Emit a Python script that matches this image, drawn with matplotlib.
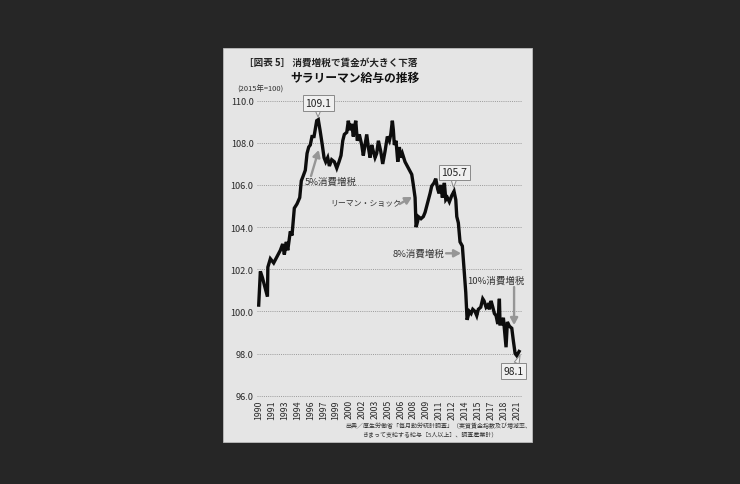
import matplotlib
matplotlib.use("Agg")
import matplotlib.pyplot as plt
from matplotlib.patches import Rectangle
import numpy as np

plt.rcParams['font.family'] = ['Noto Sans CJK JP', 'DejaVu Sans']

# ---- data ----
years = [1990.00, 1990.20, 1990.45, 1991.05, 1991.10, 1991.40, 1991.80, 1992.20, 1992.60, 1992.88,
         1993.08, 1993.32, 1993.49, 1993.80, 1994.00, 1994.28, 1994.60, 1994.93, 1995.12, 1995.32,
         1995.60, 1995.81, 1996.01, 1996.20, 1996.40, 1996.65, 1996.97, 1997.16, 1997.37, 1997.64,
         1997.85, 1998.05, 1998.29, 1998.49, 1998.77, 1999.09, 1999.38, 1999.65, 1999.89, 2000.10,
         2000.29, 2000.58, 2000.77, 2000.97, 2001.18, 2001.37, 2001.49, 2001.66, 2001.85, 2002.09,
         2002.38, 2002.57, 2002.78, 2002.98, 2003.17, 2003.38, 2003.58, 2003.77, 2003.98, 2004.18,
         2004.38, 2004.66, 2004.90, 2005.18, 2005.46, 2005.70, 2005.87, 2006.06, 2006.18, 2006.30,
         2006.50, 2006.71, 2006.90, 2007.07, 2007.26, 2007.58, 2007.98, 2008.39, 2008.58, 2008.79,
         2008.91, 2009.11, 2009.18, 2009.50, 2009.78, 2009.99, 2010.19, 2010.38, 2010.59, 2010.79,
         2011.07, 2011.27, 2011.51, 2011.67, 2011.88, 2012.07, 2012.31, 2012.48, 2012.67, 2012.91,
         2013.20, 2013.47, 2013.68, 2013.80, 2013.99, 2014.19, 2014.47, 2014.71, 2014.88, 2015.04,
         2015.31, 2015.52, 2015.72, 2015.99, 2016.20, 2016.39, 2016.68, 2016.92, 2017.08, 2017.32,
         2017.52, 2017.72, 2017.92, 2018.13, 2018.32, 2018.52, 2018.73, 2018.92, 2019.00, 2019.21,
         2019.40, 2019.72, 2019.88, 2020.12, 2020.41, 2020.60, 2020.81, 2021.01, 2021.29]
wage_index = [100.3, 101.9, 101.6, 100.7, 102.1, 102.5, 102.3, 102.6, 102.9, 103.2,
              102.7, 103.3, 102.9, 103.8, 103.6, 104.9, 105.1, 105.4, 106.2, 106.4,
              106.7, 107.5, 107.8, 107.9, 108.3, 108.3, 109.05, 109.1, 108.6, 107.9,
              107.3, 107.1, 107.3, 106.9, 107.2, 107.1, 106.8, 107.1, 107.4, 108.1,
              108.4, 108.5, 109.05, 108.6, 108.9, 108.3, 108.7, 109.05, 108.1, 108.4,
              107.9, 107.4, 107.9, 108.4, 107.8, 107.3, 107.9, 107.6, 107.3, 107.5,
              108.1, 107.6, 107.0, 107.6, 108.3, 108.1, 108.4, 109.05, 108.6, 107.9,
              108.1, 107.1, 107.8, 107.3, 107.5, 107.1, 106.8, 106.5, 106.0, 105.4,
              104.0, 104.3, 104.5, 104.4, 104.5, 104.7, 105.0, 105.3, 105.6, 105.95,
              106.1, 106.3, 105.8, 105.6, 106.0, 105.4, 106.1, 105.3, 105.4, 105.2,
              105.5, 105.7, 105.3, 104.5, 104.2, 103.3, 103.1, 101.8, 100.9, 99.6,
              100.0, 99.9, 100.1, 100.0, 99.8, 100.1, 100.2, 100.6, 100.5, 100.2,
              100.3, 100.1, 100.5, 100.2, 99.9, 99.8, 99.4, 100.6, 99.4, 99.4,
              99.7, 98.3, 99.5, 99.3, 99.2, 98.6, 98.0, 97.9, 98.1]

tick_labels = ['1990', '1991', '1993', '1994', '1996', '1997', '1999', '2000', '2002', '2003',
               '2005', '2006', '2008', '2009', '2011', '2012', '2014', '2015', '2017', '2018', '2021']
y_ticks = [96.0, 98.0, 100.0, 102.0, 104.0, 106.0, 108.0, 110.0]

W, H = 740, 485
fig = plt.figure(figsize=(W / 100, H / 100), dpi=100)
fig.patch.set_facecolor('#262626')

def fx(x):
    return x / W

def fy(y):
    return 1 - y / H

# light panel
fig.patches.append(Rectangle((fx(223), fy(443)), (532 - 223) / W, (443 - 49) / H,
                             transform=fig.transFigure, facecolor='#e5e5e5',
                             edgecolor='#bdbdbd', linewidth=0.6, zorder=-5))

ax = fig.add_axes([fx(257), fy(396.7), (522 - 257) / W, 295 / H])
ax.set_zorder(2)
ax.set_facecolor('none')
for s in ax.spines.values():
    s.set_visible(False)

ax.set_xlim(1990 - 1.7 / 8.32, 2021 + 5.3 / 8.32)
ax.set_ylim(96, 110)

ax.set_yticks(y_ticks)
ax.set_yticklabels([f'{v:.1f}' for v in y_ticks], fontsize=6.6, color='#2a2a2a')
ax.tick_params(axis='y', length=0, pad=2.5)
for v in y_ticks:
    ax.axhline(v, color='#9a9a9a', linewidth=0.7, linestyle=(0, (1, 1.2)), zorder=1, clip_on=False)

xt = np.linspace(1990, 2021, len(tick_labels))
ax.set_xticks(xt)
ax.set_xticklabels(tick_labels, rotation=90, fontsize=6.3, color='#2a2a2a', va='top')
ax.tick_params(axis='x', length=0, pad=2.5)

ax.plot(years, wage_index, color='#0d0d0d', linewidth=2.4, solid_joinstyle='miter', zorder=3)

def px2data(x, y):
    return 1990 + (x - 258.7) / 8.32, 110 - (y - 101.7) / (295 / 14)

# callout boxes
box = dict(boxstyle='square,pad=0.25', facecolor='#f0f0f0', edgecolor='#8a8a8a', linewidth=0.7)
wedge = dict(arrowstyle='wedge,tail_width=0.5', facecolor='#f0f0f0', edgecolor='#8a8a8a', linewidth=0.7,
             shrinkA=0, shrinkB=0)
for label, tip, center in [('109.1', (318, 118), (318, 104)),
                           ('105.7', (453.5, 188.5), (454, 173.3)),
                           ('98.1', (520, 356), (513.3, 372))]:
    ax.annotate(label, xy=px2data(*tip), xytext=px2data(*center), ha='center', va='center',
                fontsize=7.4, color='#222222', bbox=box, arrowprops=wedge, zorder=5)

# event annotations with gray arrows
arrow = dict(arrowstyle='-|>,head_length=0.4,head_width=0.22', color='#969696', linewidth=1.7,
             shrinkA=0, shrinkB=0)
ax.annotate('', xy=px2data(318.7, 151), xytext=px2data(311, 177), arrowprops=arrow, zorder=4)
ax.text(*px2data(305, 182.5), '5%消費増税', fontsize=6.8, color='#333333', va='center', ha='left', zorder=4)

ax.text(*px2data(330, 203.5), 'リーマン・ショック', fontsize=5.7, color='#333333', va='center', ha='left', zorder=4)
ax.annotate('', xy=px2data(412, 198), xytext=px2data(399.5, 205), arrowprops=arrow, zorder=4)

ax.text(*px2data(392.7, 254.5), '8%消費増税', fontsize=6.8, color='#333333', va='center', ha='left', zorder=4)
ax.annotate('', xy=px2data(461, 254.3), xytext=px2data(446, 254.3), arrowprops=arrow, zorder=4)

ax.text(*px2data(466.7, 281.5), '10%消費増税', fontsize=6.8, color='#333333', va='center', ha='left', zorder=4)
ax.annotate('', xy=px2data(514, 326), xytext=px2data(514, 288), arrowprops=arrow, zorder=4)

# titles
fig.text(fx(243.5), fy(63), '［図表 5］ 消費増税で賃金が大きく下落', fontsize=6.9, fontweight='bold',
         color='#222222', va='center', ha='left')
fig.text(fx(290), fy(78.5), 'サラリーマン給与の推移', fontsize=8.5, fontweight='bold',
         color='#111111', va='center', ha='left')
fig.text(fx(237), fy(89.5), '(2015年=100)', fontsize=5.4, color='#333333', va='center', ha='left')

# source
fig.text(fx(345), fy(426), '出典／厚生労働省「毎月勤労統計調査」（実質賃金指数及び増減率、',
         fontsize=4.3, color='#333333', va='center', ha='left')
fig.text(fx(362), fy(434), 'きまって支給する給与［5人以上］、調査産業計）',
         fontsize=4.3, color='#333333', va='center', ha='left')

fig.savefig('out.png', dpi=100, facecolor=fig.get_facecolor())
